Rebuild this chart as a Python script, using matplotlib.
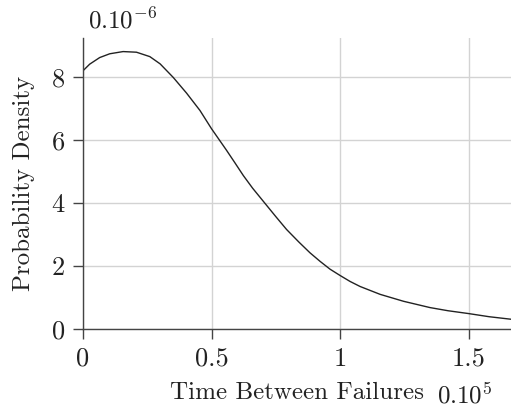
import matplotlib
matplotlib.use('Agg')
import matplotlib.pyplot as plt

# time between failures (units of 1e5) and density (units of 1e-6)
tiempo = [0.0, 0.026, 0.065, 0.104, 0.156, 0.208, 0.260, 0.300, 0.351, 0.403,
          0.455, 0.5, 0.558, 0.59, 0.624, 0.66, 0.707, 0.75, 0.792, 0.84,
          0.883, 0.922, 0.961, 1.0, 1.039, 1.078, 1.156, 1.247, 1.350, 1.42,
          1.5, 1.58, 1.665]
densidad = [8.20, 8.41, 8.62, 8.74, 8.81, 8.79, 8.65, 8.42, 7.99, 7.49,
            6.94, 6.36, 5.68, 5.29, 4.87, 4.47, 4.0, 3.57, 3.16, 2.76,
            2.42, 2.15, 1.90, 1.70, 1.51, 1.35, 1.10, 0.88, 0.68, 0.58,
            0.49, 0.39, 0.31]

xticks = [0, 0.5, 1, 1.5]
xtick_labels = ['0', '0.5', '1', '1.5']
yticks = [0, 2, 4, 6, 8]
ytick_labels = ['0', '2', '4', '6', '8']

plt.rcParams['font.family'] = 'serif'
plt.rcParams['font.serif'] = ['cmr10']
plt.rcParams['mathtext.fontset'] = 'cm'
plt.rcParams['axes.unicode_minus'] = False

fig = plt.figure(figsize=(5.11, 4.09), dpi=100)
ax = fig.add_axes([0.1624, 0.1956, 0.8376, 0.7114])

ax.plot(tiempo, densidad, color='#222222', linewidth=1.0, solid_joinstyle='round')

ax.set_xlim(0, 1.665)
ax.set_ylim(0, 9.24)
ax.set_xticks(xticks)
ax.set_xticklabels(xtick_labels)
ax.set_yticks(yticks)
ax.set_yticklabels(ytick_labels)
ax.tick_params(direction='out', length=7, width=1, colors='#444444', labelsize=19,
               labelcolor='#222222', pad=6)
ax.grid(True, color='#d3d3d3', linewidth=1)
ax.set_axisbelow(True)
for lado in ['top', 'right']:
    ax.spines[lado].set_visible(False)
for lado in ['left', 'bottom']:
    ax.spines[lado].set_color('#444444')
    ax.spines[lado].set_linewidth(1)

ax.set_xlabel('Time Between Failures', fontsize=18, color='#222222', labelpad=8)
ax.set_ylabel('Probability Density', fontsize=18, color='#222222', labelpad=12)

fig.text(0.855, 0.015, r'$\mathrm{0.10}^{\mathsf{5}}$', fontsize=18, color='#222222')
fig.text(0.172, 0.93, r'$\mathrm{0.10}^{\mathsf{-6}}$', fontsize=18, color='#222222')

fig.savefig('out.png', dpi=100)
